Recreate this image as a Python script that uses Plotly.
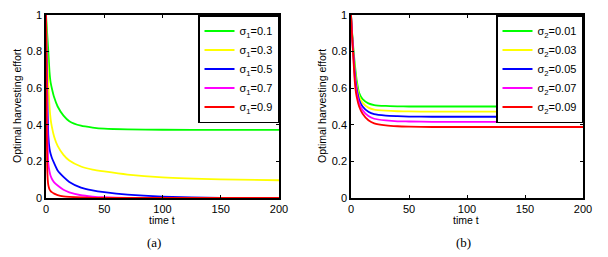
import plotly.graph_objects as go

t = [0, 0.5, 1, 1.5, 2, 3, 4, 5, 7, 10, 15, 20, 30, 40, 50, 70, 100, 150, 200]

# Panel (a): sigma_1 variations
a_labels = ["σ<sub>1</sub>=0.1", "σ<sub>1</sub>=0.3", "σ<sub>1</sub>=0.5", "σ<sub>1</sub>=0.7", "σ<sub>1</sub>=0.9"]
a_s01 = [1.0, 0.95, 0.90, 0.85, 0.80, 0.69, 0.63, 0.60, 0.55, 0.50, 0.45, 0.42, 0.395, 0.385, 0.379, 0.375, 0.373, 0.372, 0.372]
a_s03 = [1.0, 0.90, 0.80, 0.70, 0.62, 0.50, 0.43, 0.39, 0.335, 0.285, 0.236, 0.205, 0.172, 0.155, 0.145, 0.128, 0.113, 0.102, 0.097]
a_s05 = [1.0, 0.80, 0.60, 0.45, 0.34, 0.27, 0.24, 0.22, 0.19, 0.15, 0.115, 0.088, 0.057, 0.042, 0.032, 0.018, 0.007, 0.001, 0.0]
a_s07 = [1.0, 0.70, 0.45, 0.28, 0.19, 0.145, 0.12, 0.105, 0.085, 0.068, 0.045, 0.031, 0.015, 0.008, 0.004, 0.001, 0.0, 0.0, 0.0]
a_s09 = [1.0, 0.50, 0.18, 0.10, 0.07, 0.047, 0.038, 0.032, 0.024, 0.016, 0.009, 0.006, 0.003, 0.001, 0.0, 0.0, 0.0, 0.0, 0.0]

# Panel (b): sigma_2 variations
b_labels = ["σ<sub>2</sub>=0.01", "σ<sub>2</sub>=0.03", "σ<sub>2</sub>=0.05", "σ<sub>2</sub>=0.07", "σ<sub>2</sub>=0.09"]
b_s001 = [1.0, 0.95, 0.90, 0.86, 0.82, 0.75, 0.69, 0.64, 0.575, 0.54, 0.517, 0.508, 0.503, 0.501, 0.50, 0.50, 0.50, 0.50, 0.50]
b_s003 = [1.0, 0.948, 0.895, 0.85, 0.807, 0.728, 0.665, 0.618, 0.556, 0.52, 0.494, 0.483, 0.477, 0.474, 0.473, 0.472, 0.472, 0.472, 0.472]
b_s005 = [1.0, 0.945, 0.89, 0.84, 0.795, 0.705, 0.64, 0.595, 0.537, 0.50, 0.471, 0.458, 0.45, 0.447, 0.445, 0.444, 0.444, 0.444, 0.444]
b_s007 = [1.0, 0.943, 0.885, 0.83, 0.783, 0.683, 0.615, 0.573, 0.519, 0.48, 0.448, 0.433, 0.424, 0.419, 0.418, 0.416, 0.416, 0.416, 0.416]
b_s009 = [1.0, 0.94, 0.88, 0.82, 0.77, 0.66, 0.59, 0.55, 0.50, 0.46, 0.425, 0.408, 0.397, 0.392, 0.39, 0.388, 0.388, 0.388, 0.388]

colors = ["#00ff00", "#ffff00", "#0000ff", "#ff00ff", "#ff0000"]
x_ticks = [0, 50, 100, 150, 200]
y_ticks = [0, 0.2, 0.4, 0.6, 0.8, 1]
y_ticktext = ["0", "0.2", "0.4", "0.6", "0.8", "1"]

fig = go.Figure()
for lab, ys, c in zip(a_labels, [a_s01, a_s03, a_s05, a_s07, a_s09], colors):
    fig.add_trace(go.Scatter(x=t, y=ys, name=lab, mode="lines", line=dict(color=c, width=1.8, shape="spline", smoothing=0.5),
                             xaxis="x", yaxis="y", legend="legend"))
for lab, ys, c in zip(b_labels, [b_s001, b_s003, b_s005, b_s007, b_s009], colors):
    fig.add_trace(go.Scatter(x=t, y=ys, name=lab, mode="lines", line=dict(color=c, width=1.8, shape="spline", smoothing=0.5),
                             xaxis="x2", yaxis="y2", legend="legend2"))

W, H = 608, 257
def fx(px): return px / W
def fy(py): return 1 - py / H

axis_common = dict(showline=True, linecolor="black", linewidth=1.5, mirror="ticks", ticks="inside",
                   ticklen=3, tickcolor="black", showgrid=False, zeroline=False, automargin=False,
                   tickfont=dict(family="Liberation Sans, Arial", size=11, color="black"))

leg_common = dict(yanchor="top", xanchor="right", bgcolor="white", bordercolor="black", borderwidth=1.5,
                  tracegroupgap=0, itemwidth=30,
                  font=dict(family="Liberation Sans, Arial", size=11, color="black"))

fig.update_layout(
    width=W, height=H, autosize=False,
    margin=dict(l=0, r=0, t=0, b=0, pad=0, autoexpand=False),
    paper_bgcolor="white", plot_bgcolor="white",
    xaxis=dict(domain=[fx(46), fx(279)], range=[0, 200], tickvals=x_ticks, anchor="y", **axis_common),
    yaxis=dict(domain=[fy(198), fy(15)], range=[0, 1], tickvals=y_ticks, ticktext=y_ticktext, anchor="x", **axis_common),
    xaxis2=dict(domain=[fx(351), fx(583)], range=[0, 200], tickvals=x_ticks, anchor="y2", **axis_common),
    yaxis2=dict(domain=[fy(198), fy(15)], range=[0, 1], tickvals=y_ticks, ticktext=y_ticktext, anchor="x2", **axis_common),
    legend=dict(x=fx(279), y=fy(15), **leg_common),
    legend2=dict(x=fx(583), y=fy(15), **leg_common),
    showlegend=True,
)

ann_font = dict(family="Liberation Sans, Arial", size=10.5, color="black")
for xc in [162, 466]:
    fig.add_annotation(x=fx(xc), y=fy(220), xref="paper", yref="paper", text="time t", showarrow=False,
                       font=ann_font, xanchor="center", yanchor="middle")
for xc in [17, 322]:
    fig.add_annotation(x=fx(xc), y=fy(106), xref="paper", yref="paper", text="Optimal harvesting effort",
                       showarrow=False, textangle=-90, font=ann_font, xanchor="center", yanchor="middle")
for xc, lab in [(154, "(a)"), (463, "(b)")]:
    fig.add_annotation(x=fx(xc), y=fy(242), xref="paper", yref="paper", text=lab, showarrow=False,
                       font=dict(family="Liberation Serif, Times New Roman", size=13, color="black"),
                       xanchor="center", yanchor="middle")

fig.write_html("out.html", config={"displayModeBar": False, "responsive": False},
               post_script="document.documentElement.style.margin='0';document.body.style.margin='0';"
                           "document.body.style.padding='0';document.body.style.overflow='hidden';")
